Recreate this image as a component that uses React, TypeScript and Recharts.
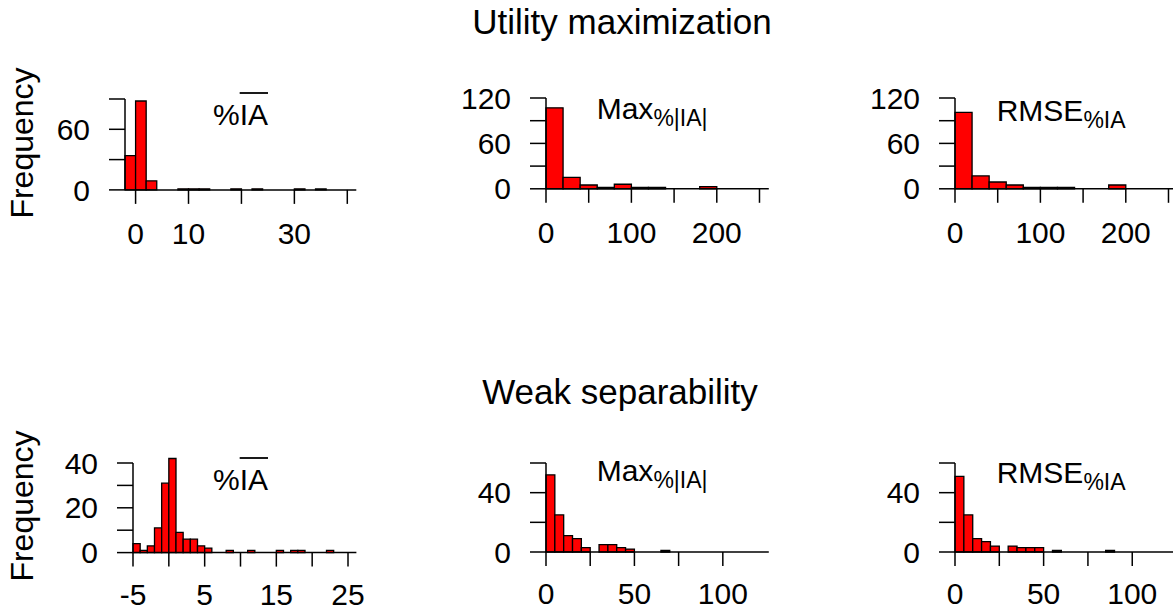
import React from 'react';
import { ComposedChart, XAxis, YAxis, ReferenceArea, Line } from 'recharts';

const FONT = '"Liberation Sans", Arial, Helvetica, sans-serif';

// ---------- text ----------
const rowTitles = ['Utility maximization', 'Weak separability'];
const yAxisTitle = 'Frequency';

// ---------- Panel 1: Utility maximization, mean %IA (bin width 2) ----------
const umMeanBinStarts = [-2, 0, 2, 4, 6, 8, 10, 12, 14, 16, 18, 20, 22, 24, 26, 28, 30, 32, 34];
const umMeanCounts = [34, 88, 9, 0, 0, 1, 1, 1, 0, 0, 1, 0, 1, 0, 0, 0, 1, 0, 1];
const umMeanBinWidth = 2;
const umMeanXTicks = [0, 10, 20, 30, 40];
const umMeanXLabels = [0, 10, 30];
const umMeanYTicks = [0, 30, 60, 90];
const umMeanYLabels = [0, 60];

// ---------- Panel 2: Utility maximization, Max %|IA| (bin width 20) ----------
const umMaxBinStarts = [0, 20, 40, 60, 80, 100, 120, 140, 160, 180];
const umMaxCounts = [107, 15, 5, 2, 6, 2, 2, 0, 0, 3];
const umMaxBinWidth = 20;
const umMaxXTicks = [0, 50, 100, 150, 200, 250];
const umMaxXLabels = [0, 100, 200];
const umMaxYTicks = [0, 30, 60, 90, 120];
const umMaxYLabels = [0, 60, 120];

// ---------- Panel 3: Utility maximization, RMSE %IA (bin width 20) ----------
const umRmseBinStarts = [0, 20, 40, 60, 80, 100, 120, 140, 160, 180];
const umRmseCounts = [101, 17, 9, 5, 2, 2, 2, 0, 0, 5];
const umRmseBinWidth = 20;
const umRmseXTicks = [0, 50, 100, 150, 200, 250];
const umRmseXLabels = [0, 100, 200];
const umRmseYTicks = [0, 30, 60, 90, 120];
const umRmseYLabels = [0, 60, 120];

// ---------- Panel 4: Weak separability, mean %IA (bin width 1) ----------
const wsMeanBinStarts = [-5, -4, -3, -2, -1, 0, 1, 2, 3, 4, 5, 6, 7, 8, 9, 10, 11, 12, 13, 14, 15, 16, 17, 18, 19, 20, 21, 22];
const wsMeanCounts = [4, 1, 3, 11, 31, 42, 9, 6, 6, 3, 2, 0, 0, 1, 0, 0, 1, 0, 0, 0, 1, 0, 1, 1, 0, 0, 0, 1];
const wsMeanBinWidth = 1;
const wsMeanXTicks = [-5, 0, 5, 10, 15, 20, 25];
const wsMeanXLabels = [-5, 5, 15, 25];
const wsMeanYTicks = [0, 10, 20, 30, 40];
const wsMeanYLabels = [0, 20, 40];

// ---------- Panel 5: Weak separability, Max %|IA| (bin width 5) ----------
const wsMaxBinStarts = [0, 5, 10, 15, 20, 25, 30, 35, 40, 45, 50, 55, 60, 65];
const wsMaxCounts = [52, 25, 11, 9, 3, 0, 5, 5, 3, 2, 0, 0, 0, 1];
const wsMaxBinWidth = 5;
const wsMaxXTicks = [0, 25, 50, 75, 100];
const wsMaxXLabels = [0, 50, 100];
const wsMaxYTicks = [0, 20, 40, 60];
const wsMaxYLabels = [0, 40];

// ---------- Panel 6: Weak separability, RMSE %IA (bin width 5) ----------
const wsRmseBinStarts = [0, 5, 10, 15, 20, 25, 30, 35, 40, 45, 50, 55, 60, 65, 70, 75, 80, 85];
const wsRmseCounts = [51, 25, 9, 7, 4, 0, 4, 3, 3, 3, 0, 1, 0, 0, 0, 0, 0, 1];
const wsRmseBinWidth = 5;
const wsRmseXTicks = [0, 25, 50, 75, 100];
const wsRmseXLabels = [0, 50, 100];
const wsRmseYTicks = [0, 20, 40, 60];
const wsRmseYLabels = [0, 40];

type PanelProps = {
  starts: number[];
  counts: number[];
  binWidth: number;
  xTicks: number[];
  xLabels: number[];
  yTicks: number[];
  yLabels: number[];
  // layout
  left: number;
  top: number;
  width: number;
  height: number;
  xMin: number;
  xMax: number;
  xTickMargin: number;
};

const Y_W = 100;
const M_TOP = 24;
const M_RIGHT = 24;
const X_H = 62;

function Histogram(p: PanelProps) {
  const data = p.starts.map((s, i) => ({ mid: s + p.binWidth / 2, lo: s, hi: s + p.binWidth, count: p.counts[i] }));
  const yMax = p.yTicks[p.yTicks.length - 1];
  const W = Y_W + p.width + M_RIGHT;
  const H = M_TOP + p.height + X_H;
  const tickStyle = { fill: '#000', fontSize: 30, fontFamily: FONT };
  return (
    <div style={{ position: 'absolute', left: p.left - Y_W, top: p.top - M_TOP, width: W, height: H }}>
      <ComposedChart width={W} height={H} data={data} margin={{ top: M_TOP, right: M_RIGHT, bottom: 0, left: 0 }}>
        <XAxis
          dataKey="mid"
          type="number"
          domain={[p.xMin, p.xMax]}
          allowDataOverflow
          ticks={p.xTicks}
          interval={0}
          height={X_H}
          tickSize={14}
          tickMargin={p.xTickMargin}
          tick={tickStyle}
          tickFormatter={(v: number) => (p.xLabels.includes(v) ? String(v) : '')}
          axisLine={{ stroke: '#000', strokeWidth: 1.5 }}
          tickLine={{ stroke: '#000', strokeWidth: 1.5 }}
        />
        <YAxis
          type="number"
          domain={[0, yMax]}
          allowDataOverflow
          ticks={p.yTicks}
          interval={0}
          width={Y_W}
          tickSize={16}
          tickMargin={19}
          tick={tickStyle}
          tickFormatter={(v: number) => (p.yLabels.includes(v) ? String(v) : '')}
          axisLine={{ stroke: '#000', strokeWidth: 1.5 }}
          tickLine={{ stroke: '#000', strokeWidth: 1.5 }}
        />
        {data.map((d, i) => (
          <ReferenceArea
            key={i}
            x1={d.lo}
            x2={d.hi}
            y1={0}
            y2={d.count}
            fill="#FF0000"
            fillOpacity={1}
            stroke="#000"
            strokeWidth={1.3}
            ifOverflow="visible"
          />
        ))}
        <Line dataKey="count" stroke="none" dot={false} activeDot={false} isAnimationActive={false} legendType="none" />
      </ComposedChart>
    </div>
  );
}

function MeanLabel({ x, y, lineY }: { x: number; y: number; lineY: number }) {
  const fs = 30;
  return (
    <g>
      <text x={x} y={y} fontSize={fs} fontFamily={FONT} fill="#000">%IA</text>
      <line x1={x + 0.889 * fs} x2={x + 1.834 * fs} y1={lineY} y2={lineY} stroke="#000" strokeWidth={1.8} />
    </g>
  );
}

function SubLabel({ x, y, main, sub }: { x: number; y: number; main: string; sub: string }) {
  return (
    <text x={x} y={y} fontSize={30} fontFamily={FONT} fill="#000">
      {main}
      <tspan dy={7} fontSize={23}>{sub}</tspan>
    </text>
  );
}

export default function App() {
  return (
    <div style={{ position: 'absolute', left: 0, top: 0, width: 1173, height: 612, overflow: 'hidden', background: '#fff' }}>
      <Histogram starts={umMeanBinStarts} counts={umMeanCounts} binWidth={umMeanBinWidth} xTicks={umMeanXTicks} xLabels={umMeanXLabels} yTicks={umMeanYTicks} yLabels={umMeanYLabels}
        left={125.4} top={98.6} width={231.3} height={90.9} xMin={-2} xMax={41.7} xTickMargin={18.5} />
      <Histogram starts={umMaxBinStarts} counts={umMaxCounts} binWidth={umMaxBinWidth} xTicks={umMaxXTicks} xLabels={umMaxXLabels} yTicks={umMaxYTicks} yLabels={umMaxYLabels}
        left={545.5} top={98.4} width={222.8} height={90.8} xMin={0} xMax={260.9} xTickMargin={18.5} />
      <Histogram starts={umRmseBinStarts} counts={umRmseCounts} binWidth={umRmseBinWidth} xTicks={umRmseXTicks} xLabels={umRmseXLabels} yTicks={umRmseYTicks} yLabels={umRmseYLabels}
        left={955} top={98.4} width={222.8} height={90.8} xMin={0} xMax={260.9} xTickMargin={18.5} />
      <Histogram starts={wsMeanBinStarts} counts={wsMeanCounts} binWidth={wsMeanBinWidth} xTicks={wsMeanXTicks} xLabels={wsMeanXLabels} yTicks={wsMeanYTicks} yLabels={wsMeanYLabels}
        left={133.3} top={462.7} width={223.4} height={89.6} xMin={-5} xMax={26.17} xTickMargin={17} />
      <Histogram starts={wsMaxBinStarts} counts={wsMaxCounts} binWidth={wsMaxBinWidth} xTicks={wsMaxXTicks} xLabels={wsMaxXLabels} yTicks={wsMaxYTicks} yLabels={wsMaxYLabels}
        left={545.5} top={463.3} width={222.8} height={89} xMin={0} xMax={126} xTickMargin={17} />
      <Histogram starts={wsRmseBinStarts} counts={wsRmseCounts} binWidth={wsRmseBinWidth} xTicks={wsRmseXTicks} xLabels={wsRmseXLabels} yTicks={wsRmseYTicks} yLabels={wsRmseYLabels}
        left={955} top={463.3} width={222.8} height={89} xMin={0} xMax={125.7} xTickMargin={17} />

      <svg width={1173} height={612} style={{ position: 'absolute', left: 0, top: 0, pointerEvents: 'none' }}>
        <text x={622} y={34} textAnchor="middle" fontSize={35} fontFamily={FONT} fill="#000">{rowTitles[0]}</text>
        <text x={620} y={404} textAnchor="middle" fontSize={35} fontFamily={FONT} fill="#000">{rowTitles[1]}</text>
        <text transform="translate(33,143) rotate(-90)" textAnchor="middle" fontSize={32} fontFamily={FONT} fill="#000">{yAxisTitle}</text>
        <text transform="translate(33,506) rotate(-90)" textAnchor="middle" fontSize={32} fontFamily={FONT} fill="#000">{yAxisTitle}</text>
        <MeanLabel x={213} y={125} lineY={93} />
        <MeanLabel x={213} y={490} lineY={458} />
        <SubLabel x={596.7} y={119} main="Max" sub="%|IA|" />
        <SubLabel x={996.7} y={121} main="RMSE" sub="%IA" />
        <SubLabel x={596.7} y={481} main="Max" sub="%|IA|" />
        <SubLabel x={996.7} y={483} main="RMSE" sub="%IA" />
      </svg>
    </div>
  );
}
